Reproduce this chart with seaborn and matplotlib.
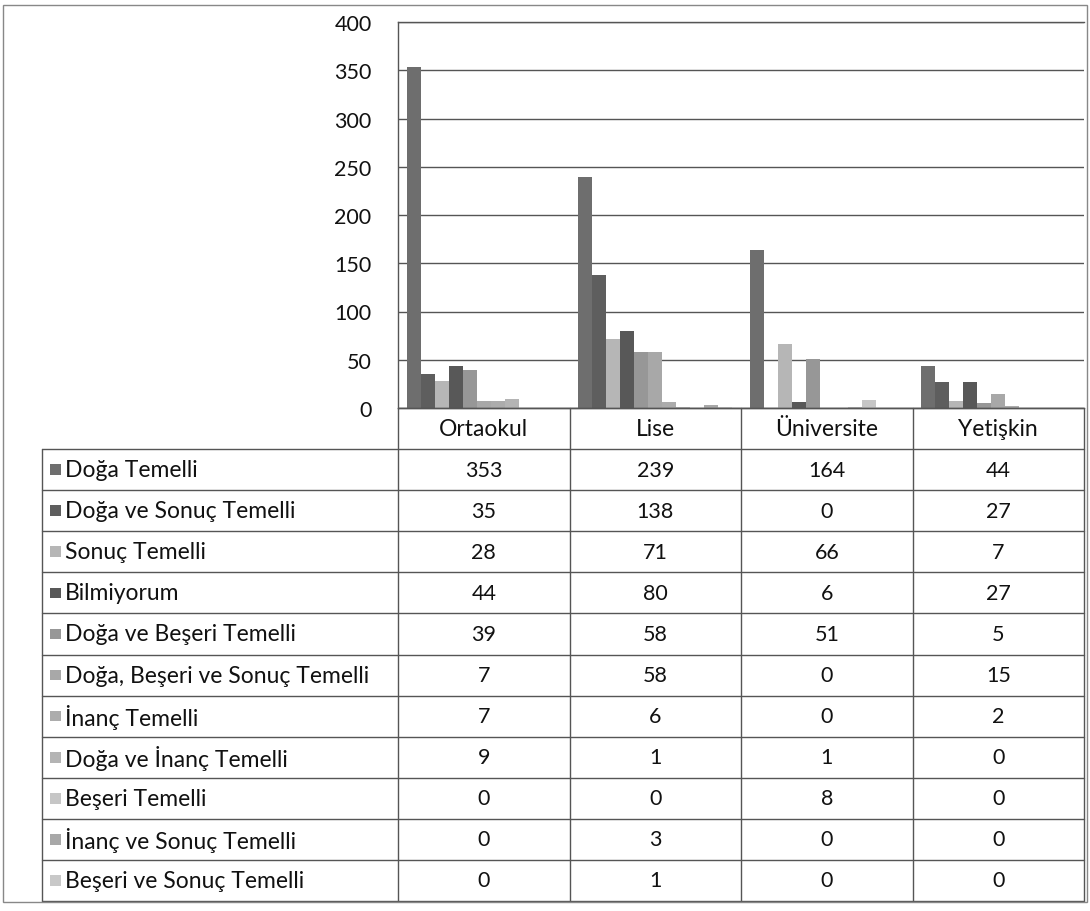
import numpy as np
import pandas as pd
import matplotlib
matplotlib.use("Agg")
import matplotlib.pyplot as plt
from matplotlib.patches import Rectangle
import seaborn as sns

# veriler
kategoriler = ["Ortaokul", "Lise", "Üniversite", "Yetişkin"]
seriler = [
    "Doğa Temelli",
    "Doğa ve Sonuç Temelli",
    "Sonuç Temelli",
    "Bilmiyorum",
    "Doğa ve Beşeri Temelli",
    "Doğa, Beşeri ve Sonuç Temelli",
    "İnanç Temelli",
    "Doğa ve İnanç Temelli",
    "Beşeri Temelli",
    "İnanç ve Sonuç Temelli",
    "Beşeri ve Sonuç Temelli",
]
doga = [353, 239, 164, 44]
doga_sonuc = [35, 138, 0, 27]
sonuc = [28, 71, 66, 7]
bilmiyorum = [44, 80, 6, 27]
doga_beseri = [39, 58, 51, 5]
doga_beseri_sonuc = [7, 58, 0, 15]
inanc = [7, 6, 0, 2]
doga_inanc = [9, 1, 1, 0]
beseri = [0, 0, 8, 0]
inanc_sonuc = [0, 3, 0, 0]
beseri_sonuc = [0, 1, 0, 0]
degerler = [doga, doga_sonuc, sonuc, bilmiyorum, doga_beseri, doga_beseri_sonuc,
            inanc, doga_inanc, beseri, inanc_sonuc, beseri_sonuc]
y_ticks = [0, 50, 100, 150, 200, 250, 300, 350, 400]

renkler = ["#6e6e6e", "#5e5e5e", "#b6b6b6", "#585858", "#979797", "#a8a8a8",
           "#acacac", "#b4b4b4", "#c6c6c6", "#a8a8a8", "#c8c8c8"]

rows = []
for s, vals in zip(seriler, degerler):
    for k, v in zip(kategoriler, vals):
        rows.append({"kategori": k, "seri": s, "deger": v})
df = pd.DataFrame(rows)

sns.set_theme(style="white")
plt.rcParams["font.family"] = ["Lato", "DejaVu Sans"]

W, H = 1090, 912
fig = plt.figure(figsize=(W / 100, H / 100), dpi=100)
cizgi = "#555555"
yazi = "#111111"

# grafik alani
px_l, px_r, px_t, px_b = 398, 1084, 23, 409
ax = fig.add_axes([px_l / W, (H - px_b) / H, (px_r - px_l) / W, (px_b - px_t) / H])
sns.barplot(data=df, x="kategori", y="deger", hue="seri", order=kategoriler,
            hue_order=seriler, palette=renkler, width=0.9, saturation=1,
            linewidth=0, legend=False, ax=ax)
ax.set_xlim(-0.5, 3.5)
ax.set_ylim(0, 400)
ax.set_yticks(y_ticks)
ax.set_xticks([])
ax.set_xlabel("")
ax.set_ylabel("")
ax.yaxis.grid(True, color=cizgi, lw=1)
ax.set_axisbelow(True)
for side in ["left", "top", "bottom"]:
    ax.spines[side].set_color(cizgi)
    ax.spines[side].set_linewidth(1)
ax.spines["right"].set_visible(False)
ax.tick_params(axis="y", length=0, pad=19, labelsize=15.5, labelcolor=yazi)

# veri tablosu
tab_l, tab_b = 42, 902
unit = (px_r - px_l) / 4.0
xL = -0.5 - (px_l - tab_l) / unit
axt = fig.add_axes([tab_l / W, (H - tab_b) / H, (px_r - tab_l) / W, (tab_b - px_b) / H])
axt.set_xlim(xL, 3.5)
axt.set_ylim(12, 0)
axt.axis("off")

n = len(seriler)
axt.plot([-0.5, 3.5], [0, 0], color=cizgi, lw=1, clip_on=False)
for r in range(1, n + 2):
    axt.plot([xL, 3.5], [r, r], color=cizgi, lw=1, clip_on=False)
axt.plot([xL, xL], [1, n + 1], color=cizgi, lw=1, clip_on=False)
for c in range(5):
    axt.plot([c - 0.5, c - 0.5], [0, n + 1], color=cizgi, lw=1, clip_on=False)

for i, k in enumerate(kategoriler):
    axt.text(i, 0.5, k, ha="center", va="center", fontsize=16.5, color=yazi)

sq = 11 / unit
for r, (s, vals, col) in enumerate(zip(seriler, degerler, renkler)):
    yc = r + 1.5
    axt.add_patch(Rectangle((xL + 8 / unit, yc - 0.13), sq, 0.26,
                            facecolor=col, edgecolor="none"))
    axt.text(xL + 23 / unit, yc, s, ha="left", va="center", fontsize=16.5, color=yazi)
    for i, v in enumerate(vals):
        axt.text(i, yc, str(v), ha="center", va="center", fontsize=15.5, color=yazi)

# dis cerceve
fig.add_artist(Rectangle((3 / W, (H - 903) / H), (1087 - 3) / W, (903 - 6) / H,
                         transform=fig.transFigure, fill=False,
                         edgecolor="#888", lw=1))

fig.savefig("out.png", dpi=100, facecolor="white")
